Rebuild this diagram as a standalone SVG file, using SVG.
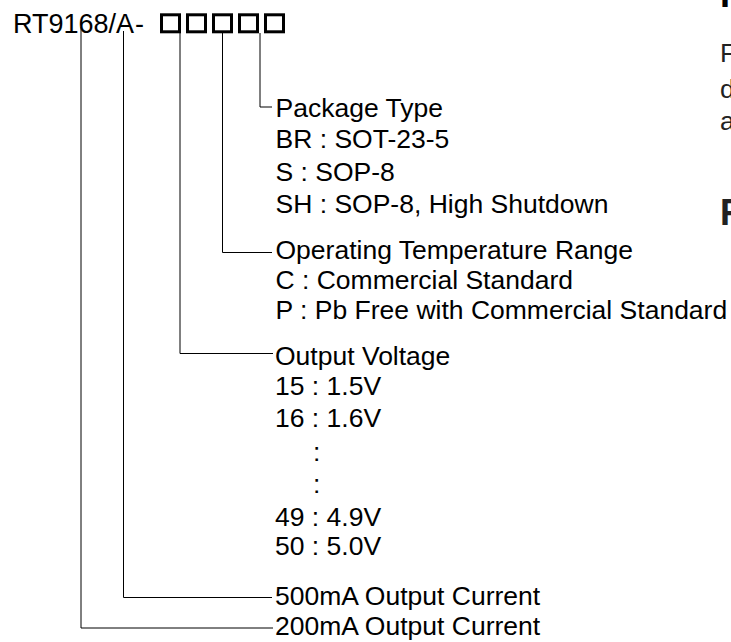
<svg xmlns="http://www.w3.org/2000/svg" width="731" height="642" viewBox="0 0 731 642">
<style>
text{font-family:"Liberation Sans",Arial,sans-serif;font-size:26.5px;fill:#000}
.title{font-size:27px}
.box{fill:none;stroke:#000;stroke-width:3}
.ln{fill:none;stroke:#000;stroke-width:1}
.edge{fill:#222}
.bold{font-weight:bold;font-size:36px}
</style>
<rect width="731" height="642" fill="#fff"/>
<g id="title">
<text class="title" x="13" y="33">RT9168/A<tspan dx="1">-</tspan></text>
<rect class="box" x="161.5" y="14.8" width="18" height="17"/>
<rect class="box" x="187.5" y="14.8" width="18" height="17"/>
<rect class="box" x="213.5" y="14.8" width="18" height="17"/>
<rect class="box" x="239.5" y="14.8" width="18" height="17"/>
<rect class="box" x="265.5" y="14.8" width="18" height="17"/>
</g>
<g id="connectors">
<path class="ln" d="M81,27V628H273"/>
<path class="ln" d="M123.5,31V597.5H272"/>
<path class="ln" d="M180,33V353.5H273"/>
<path class="ln" d="M222.5,33V252.5H272"/>
<path class="ln" d="M260,33V107H272"/>
</g>
<g id="package">
<text x="275.5" y="116.5">Package Type</text>
<text x="275.5" y="148">BR : SOT-23-5</text>
<text x="275.5" y="180.5">S : SOP-8</text>
<text x="275.5" y="213">SH : SOP-8, High Shutdown</text>
</g>
<g id="temperature">
<text x="275.5" y="258.5">Operating Temperature Range</text>
<text x="275.5" y="288.5">C : Commercial Standard</text>
<text x="275.5" y="318.5">P : Pb Free with Commercial Standard</text>
</g>
<g id="voltage">
<text x="275" y="365">Output Voltage</text>
<text x="275" y="395">15 : 1.5V</text>
<text x="275" y="426.5">16 : 1.6V</text>
<text x="313" y="461">:</text>
<text x="313" y="493">:</text>
<text x="275" y="526">49 : 4.9V</text>
<text x="275" y="555">50 : 5.0V</text>
</g>
<g id="current500">
<text x="275" y="605">500mA Output Current</text>
</g>
<g id="current200">
<text x="275" y="635">200mA Output Current</text>
</g>
<g id="edge-text">
<text class="bold" x="720" y="7">P</text>
<text class="edge" x="720" y="62">F</text>
<text class="edge" x="720" y="98">d</text>
<text class="edge" x="720" y="130">a</text>
<text class="edge bold" x="720" y="225">R</text>
</g>
</svg>
